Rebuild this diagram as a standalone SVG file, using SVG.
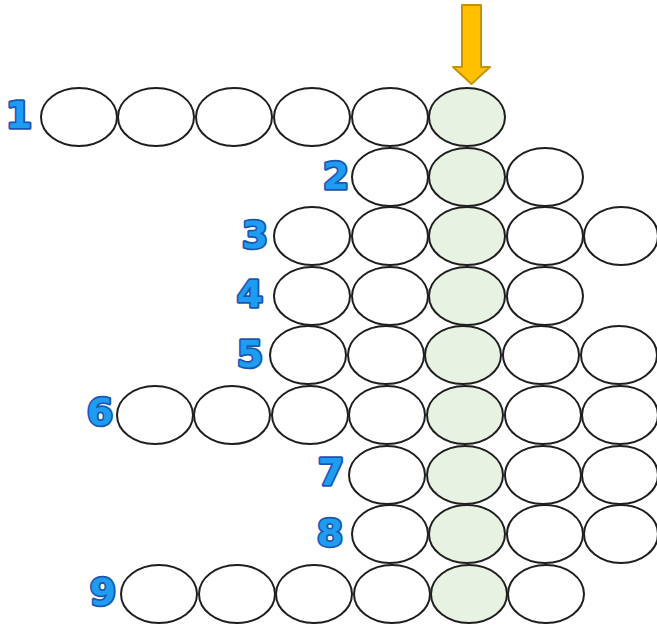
<svg xmlns="http://www.w3.org/2000/svg" width="657" height="626" viewBox="0 0 657 626">
<style>
.c{fill:#fff;stroke:#1e1e1e;stroke-width:2}
.g{fill:#e8f2e3;stroke:#1e1e1e;stroke-width:2}
.n{font-family:"DejaVu Sans",sans-serif;font-weight:bold;font-size:38px;fill:#1e9cf0;stroke:#1a56b0;stroke-width:3.5;stroke-linejoin:round;paint-order:stroke;text-anchor:middle}
</style>
<rect width="657" height="626" fill="#fff"/>
<g id="arrow">
<path d="M462,5 H481 V67 H490 L471.5,84 L453,67 H462 Z" fill="#ffc000" stroke="#c49400" stroke-width="2" stroke-linejoin="round"/>
</g>
<g id="row1">
<text class="n" x="19" y="128">1</text>
<ellipse class="c" cx="79" cy="117" rx="38" ry="29"/>
<ellipse class="c" cx="156" cy="117" rx="38" ry="29"/>
<ellipse class="c" cx="234" cy="117" rx="38" ry="29"/>
<ellipse class="c" cx="312" cy="117" rx="38" ry="29"/>
<ellipse class="c" cx="390" cy="117" rx="38" ry="29"/>
<ellipse class="g" cx="467" cy="117" rx="38" ry="29"/>
</g>
<g id="row2">
<text class="n" x="336" y="189">2</text>
<ellipse class="c" cx="390" cy="177" rx="38" ry="29"/>
<ellipse class="g" cx="467" cy="177" rx="38" ry="29"/>
<ellipse class="c" cx="545" cy="177" rx="38" ry="29"/>
</g>
<g id="row3">
<text class="n" x="255" y="248">3</text>
<ellipse class="c" cx="312" cy="236" rx="38" ry="29"/>
<ellipse class="c" cx="390" cy="236" rx="38" ry="29"/>
<ellipse class="g" cx="467" cy="236" rx="38" ry="29"/>
<ellipse class="c" cx="545" cy="236" rx="38" ry="29"/>
<ellipse class="c" cx="621" cy="236" rx="37" ry="29"/>
</g>
<g id="row4">
<text class="n" x="250" y="307">4</text>
<ellipse class="c" cx="312" cy="296" rx="38" ry="29"/>
<ellipse class="c" cx="390" cy="296" rx="38" ry="29"/>
<ellipse class="g" cx="467" cy="296" rx="38" ry="29"/>
<ellipse class="c" cx="545" cy="296" rx="38" ry="29"/>
</g>
<g id="row5">
<text class="n" x="250" y="367">5</text>
<ellipse class="c" cx="308" cy="355" rx="38" ry="29"/>
<ellipse class="c" cx="386" cy="355" rx="38" ry="29"/>
<ellipse class="g" cx="463" cy="355" rx="38" ry="29"/>
<ellipse class="c" cx="541" cy="355" rx="38" ry="29"/>
<ellipse class="c" cx="619" cy="355" rx="38" ry="29"/>
</g>
<g id="row6">
<text class="n" x="100" y="425">6</text>
<ellipse class="c" cx="155" cy="415" rx="38" ry="29"/>
<ellipse class="c" cx="232" cy="415" rx="38" ry="29"/>
<ellipse class="c" cx="310" cy="415" rx="38" ry="29"/>
<ellipse class="c" cx="387" cy="415" rx="38" ry="29"/>
<ellipse class="g" cx="465" cy="415" rx="38" ry="29"/>
<ellipse class="c" cx="543" cy="415" rx="38" ry="29"/>
<ellipse class="c" cx="620" cy="415" rx="38" ry="29"/>
</g>
<g id="row7">
<text class="n" x="331" y="485">7</text>
<ellipse class="c" cx="387" cy="475" rx="38" ry="29"/>
<ellipse class="g" cx="465" cy="475" rx="38" ry="29"/>
<ellipse class="c" cx="543" cy="475" rx="38" ry="29"/>
<ellipse class="c" cx="620" cy="475" rx="38" ry="29"/>
</g>
<g id="row8">
<text class="n" x="330" y="546">8</text>
<ellipse class="c" cx="390" cy="534" rx="38" ry="29"/>
<ellipse class="g" cx="467" cy="534" rx="38" ry="29"/>
<ellipse class="c" cx="545" cy="534" rx="38" ry="29"/>
<ellipse class="c" cx="621" cy="534" rx="37" ry="29"/>
</g>
<g id="row9">
<text class="n" x="103" y="605">9</text>
<ellipse class="c" cx="159" cy="594" rx="38" ry="29"/>
<ellipse class="c" cx="237" cy="594" rx="38" ry="29"/>
<ellipse class="c" cx="314" cy="594" rx="38" ry="29"/>
<ellipse class="c" cx="392" cy="594" rx="38" ry="29"/>
<ellipse class="g" cx="469" cy="594" rx="38" ry="29"/>
<ellipse class="c" cx="546" cy="594" rx="38" ry="29"/>
</g>
</svg>
